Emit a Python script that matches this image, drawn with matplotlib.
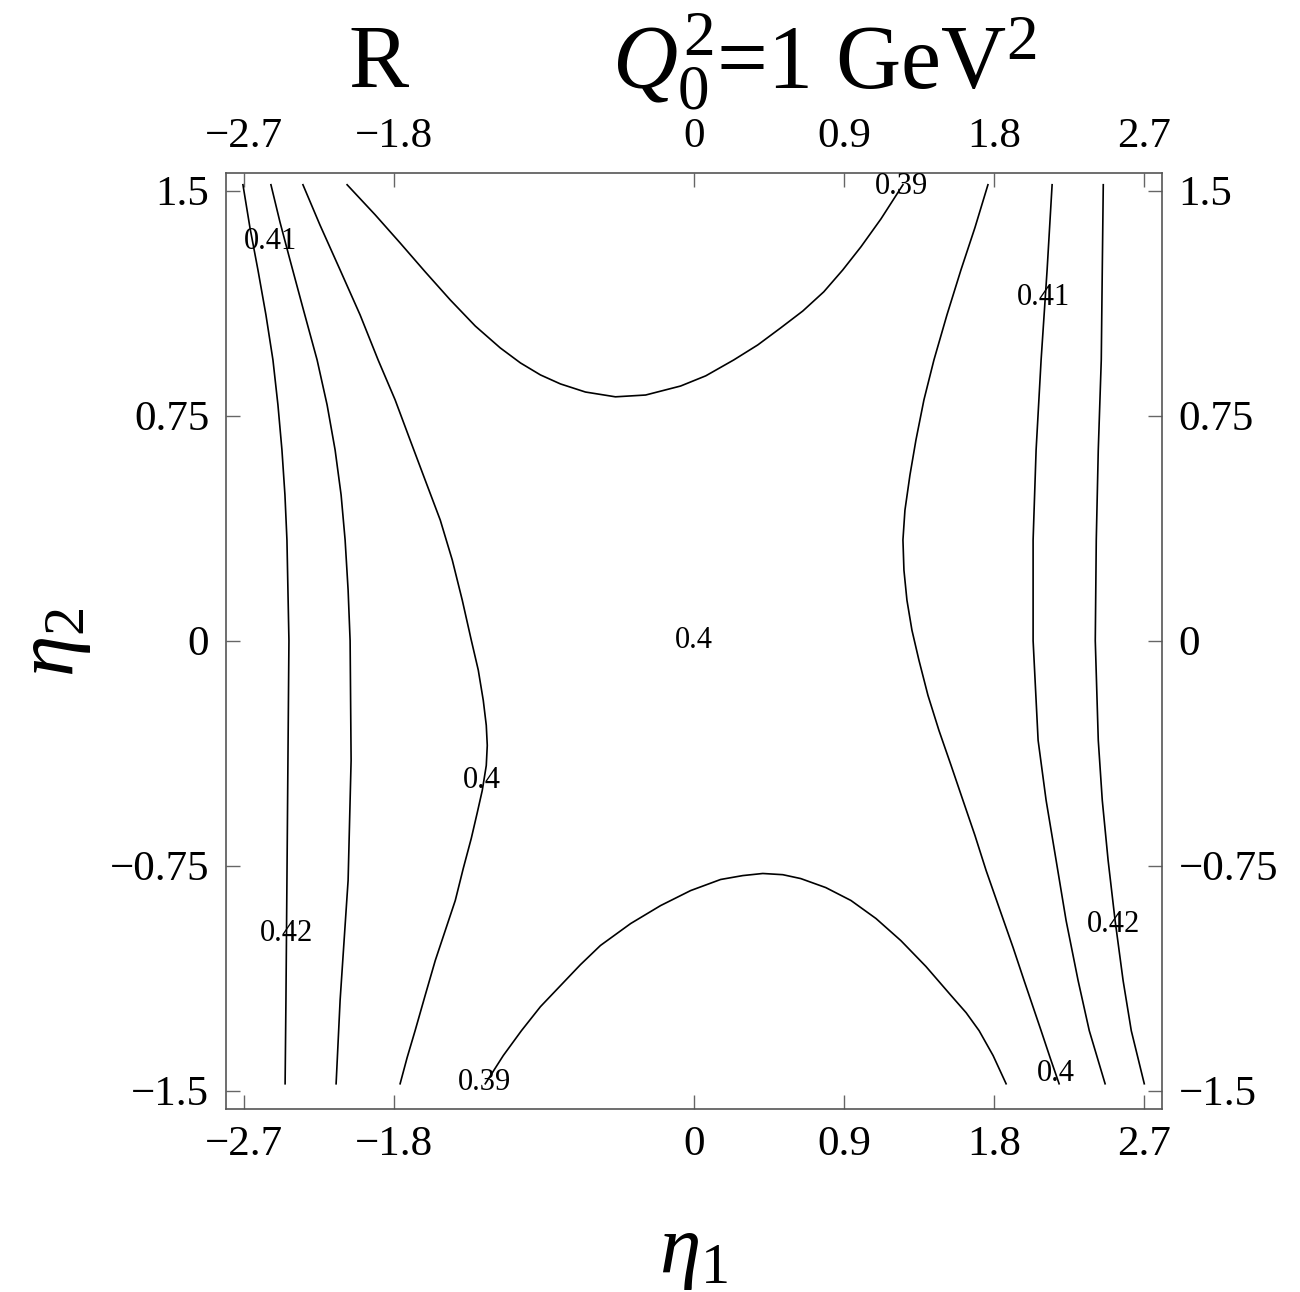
import matplotlib.pyplot as plt

plt.rcParams['font.family'] = ['Liberation Serif', 'DejaVu Serif']
plt.rcParams['mathtext.fontset'] = 'custom'
plt.rcParams['mathtext.rm'] = 'Liberation Serif'
plt.rcParams['mathtext.it'] = 'Liberation Serif:italic'

# Contour lines of R(eta1, eta2), each as (eta1, eta2) points
left042_x = [-2.706, -2.664, -2.616, -2.568, -2.526, -2.496, -2.472, -2.454, -2.442,
             -2.430, -2.436, -2.442, -2.448, -2.453]
left042_y = [1.520, 1.377, 1.236, 1.086, 0.936, 0.786, 0.636, 0.486, 0.336,
             0.0, -0.399, -0.799, -1.199, -1.477]

left041_x = [-2.538, -2.484, -2.424, -2.346, -2.261, -2.201, -2.153, -2.117, -2.093,
             -2.075, -2.063, -2.057, -2.075, -2.123, -2.147]
left041_y = [1.520, 1.396, 1.270, 1.109, 0.936, 0.786, 0.636, 0.486, 0.336,
             0.169, 0.0, -0.399, -0.799, -1.199, -1.477]

left040_x = [-2.346, -2.244, -2.123, -2.003, -1.895, -1.793, -1.703, -1.613, -1.522,
             -1.450, -1.390, -1.336, -1.294, -1.264, -1.246, -1.240, -1.246, -1.270,
             -1.300, -1.336, -1.384, -1.432, -1.492, -1.552, -1.613, -1.673, -1.721,
             -1.763]
left040_y = [1.520, 1.386, 1.236, 1.086, 0.936, 0.803, 0.669, 0.536, 0.402,
             0.269, 0.135, 0.002, -0.098, -0.199, -0.282, -0.349, -0.416, -0.499,
             -0.573, -0.659, -0.759, -0.866, -0.966, -1.066, -1.183, -1.300, -1.390,
             -1.477]

top039_x = [-2.081, -1.913, -1.763, -1.613, -1.462, -1.312, -1.162, -1.041, -0.921,
            -0.801, -0.651, -0.471, -0.290, -0.080, 0.071, 0.239, 0.383, 0.521,
            0.653, 0.779, 0.893, 1.002, 1.122, 1.254]
top039_y = [1.520, 1.420, 1.326, 1.230, 1.136, 1.049, 0.976, 0.926, 0.886,
            0.856, 0.829, 0.813, 0.819, 0.849, 0.883, 0.936, 0.986, 1.043,
            1.099, 1.163, 1.236, 1.313, 1.406, 1.520]

bottom039_x = [-1.252, -1.144, -1.035, -0.921, -0.801, -0.681, -0.561, -0.380, -0.200,
               -0.020, 0.160, 0.293, 0.413, 0.533, 0.641, 0.791, 0.942, 1.092,
               1.242, 1.392, 1.543, 1.633, 1.711, 1.795, 1.873]
bottom039_y = [-1.477, -1.383, -1.300, -1.220, -1.150, -1.080, -1.016, -0.943, -0.883,
               -0.833, -0.796, -0.783, -0.776, -0.780, -0.793, -0.823, -0.866, -0.926,
               -1.000, -1.086, -1.183, -1.240, -1.300, -1.383, -1.477]

right040_x = [1.764, 1.686, 1.602, 1.518, 1.440, 1.380, 1.332, 1.296, 1.266, 1.254,
              1.260, 1.278, 1.308, 1.350, 1.404, 1.470, 1.543, 1.614, 1.686, 1.753,
              1.843, 1.915, 1.981, 2.083, 2.137, 2.191]
right040_y = [1.520, 1.377, 1.236, 1.086, 0.936, 0.803, 0.669, 0.552, 0.435, 0.336,
              0.235, 0.135, 0.035, -0.065, -0.182, -0.299, -0.416, -0.532, -0.649, -0.766,
              -0.909, -1.023, -1.133, -1.300, -1.390, -1.477]

right041_x = [2.149, 2.119, 2.083, 2.053, 2.035, 2.035, 2.065, 2.113, 2.173, 2.233,
              2.305, 2.372, 2.467]
right041_y = [1.520, 1.236, 0.936, 0.636, 0.336, 0.0, -0.332, -0.532, -0.732, -0.933,
              -1.133, -1.300, -1.477]

right042_x = [2.456, 2.450, 2.444, 2.426, 2.414, 2.408, 2.426, 2.450, 2.485, 2.527,
              2.575, 2.624, 2.702]
right042_y = [1.520, 1.236, 0.936, 0.636, 0.336, 0.0, -0.332, -0.532, -0.732, -0.933,
              -1.133, -1.300, -1.477]

# contour labels: level and where it is written
label_level = [0.41, 0.42, 0.4, 0.39, 0.4, 0.39, 0.41, 0.42, 0.4]
label_x = [-2.538, -2.442, -1.270, -1.258, 0.0, 1.248, 2.095, 2.516, 2.173]
label_y = [1.330, -0.976, -0.465, -1.473, 0.0, 1.513, 1.143, -0.946, -1.443]

x_ticks = [-2.7, -1.8, 0, 0.9, 1.8, 2.7]
x_ticklabels = ['\u22122.7', '\u22121.8', '0', '0.9', '1.8', '2.7']
y_ticks = [-1.5, -0.75, 0, 0.75, 1.5]
y_ticklabels = ['\u22121.5', '\u22120.75', '0', '0.75', '1.5']

contours = [
    (left042_x, left042_y),
    (left041_x, left041_y),
    (left040_x, left040_y),
    (top039_x, top039_y),
    (bottom039_x, bottom039_y),
    (right040_x, right040_y),
    (right041_x, right041_y),
    (right042_x, right042_y),
]

fig = plt.figure(figsize=(13, 12.92), dpi=100)
ax = fig.add_axes([0.1738, 0.1419, 0.72, 0.7244])

for cx, cy in contours:
    ax.plot(cx, cy, color='black', lw=1.2, solid_joinstyle='round')

for lev, lx, ly in zip(label_level, label_x, label_y):
    ax.text(lx, ly, f'{lev:g}', fontsize=22, ha='center', va='center')

ax.set_xlim(-2.808, 2.808)
ax.set_ylim(-1.56, 1.56)
ax.set_xticks(x_ticks)
ax.set_xticklabels(x_ticklabels)
ax.set_yticks(y_ticks)
ax.set_yticklabels(y_ticklabels)
ax.tick_params(direction='in', length=10, width=1.0, color='#666666',
               top=True, right=True, labeltop=True, labelright=True,
               labelsize=31, pad=12)
for sp in ax.spines.values():
    sp.set_color('#555555')
    sp.set_linewidth(1.2)

# title and axis labels
fig.text(348 / 1300, 1 - 88 / 1292, 'R', fontsize=65, ha='left', va='baseline')
fig.text(612 / 1300, 1 - 88 / 1292, '$Q_0^2$=1 GeV$^2$', fontsize=65,
         ha='left', va='baseline')
fig.text(693 / 1300, 1 - 1272 / 1292, '$\\eta_1$', fontsize=60,
         ha='center', va='baseline')
fig.text(55 / 1300, 1 - 642 / 1292, '$\\eta_2$', fontsize=60, rotation=90,
         ha='center', va='center')

fig.savefig('out.png', dpi=100)
